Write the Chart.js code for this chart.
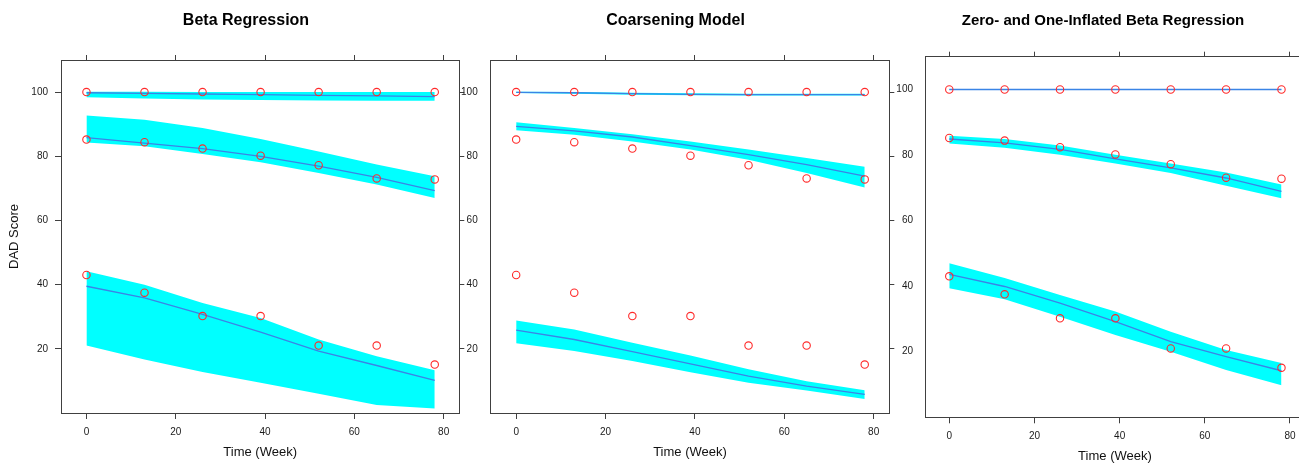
<!DOCTYPE html>
<html>
<head>
<meta charset="utf-8">
<script src="https://cdn.jsdelivr.net/npm/chart.js@4.4.1/dist/chart.umd.min.js"></script>
<style>
  html, body { margin: 0; padding: 0; background: #fff; }
  body { position: relative; width: 1299px; height: 463px; overflow: hidden; }
  canvas { position: absolute; top: 0; }
</style>
</head>
<body>
<canvas id="beta" width="492" height="463" style="left:0px"></canvas>
<canvas id="coarse" width="471" height="463" style="left:440px"></canvas>
<canvas id="zoib" width="414" height="470" style="left:896px"></canvas>
<script>
// observed time points and tick labels
const weeks = [0, 13, 26, 39, 52, 65, 78];
const xTicks = [0, 20, 40, 60, 80];
const yTicks = [20, 40, 60, 80, 100];

// observed DAD scores (three groups)
const obsHigh = [100, 100, 100, 100, 100, 100, 100];
const obsMid = [85.2, 84.4, 82.4, 80.2, 77.2, 73.1, 72.8];
const obsLow = [43.0, 37.5, 30.2, 30.2, 21.0, 21.0, 15.1];

// beta regression: fitted mean and band
const betaHighLo = [98.4, 98.0, 97.7, 97.5, 97.4, 97.3, 97.3];
const betaHighFit = [99.8, 99.6, 99.4, 99.2, 99.0, 98.8, 98.6];
const betaHighUp = [100.1, 100.1, 100.0, 100.0, 100.0, 100.0, 100.0];
const betaMidLo = [84.3, 83.1, 80.7, 78.1, 74.8, 71.2, 67.0];
const betaMidFit = [85.8, 84.1, 82.4, 80.0, 76.9, 73.4, 69.3];
const betaMidUp = [92.7, 91.4, 88.8, 85.4, 81.5, 77.4, 73.8];
const betaLowLo = [21.0, 16.7, 12.8, 9.4, 6.0, 2.5, 1.4];
const betaLowFit = [39.5, 35.9, 30.7, 25.2, 19.3, 14.8, 10.2];
const betaLowUp = [44.2, 40.0, 34.3, 29.6, 22.9, 17.7, 13.3];

// coarsening model
const coarHighLo = [99.7, 99.5, 99.2, 99.0, 98.9, 98.9, 98.9];
const coarHighFit = [99.9, 99.8, 99.5, 99.3, 99.2, 99.2, 99.2];
const coarHighUp = [100.1, 100.0, 99.8, 99.6, 99.5, 99.5, 99.5];
const coarMidLo = [88.1, 86.7, 84.6, 82.1, 78.9, 74.8, 70.3];
const coarMidFit = [89.3, 87.9, 86.0, 83.3, 80.5, 77.4, 73.8];
const coarMidUp = [90.6, 88.8, 86.9, 84.6, 82.1, 79.5, 76.7];
const coarLowLo = [21.7, 19.3, 16.2, 12.7, 9.4, 7.0, 4.4];
const coarLowFit = [25.8, 22.9, 19.1, 15.3, 11.5, 8.4, 5.8];
const coarLowUp = [28.8, 26.0, 21.9, 17.9, 13.6, 9.9, 7.1];

// zero- and one-inflated beta regression
const zoibHighLo = [99.95, 99.95, 99.95, 99.95, 99.95, 99.95, 99.95];
const zoibHighFit = [100, 100, 100, 100, 100, 100, 100];
const zoibHighUp = [100.05, 100.05, 100.05, 100.05, 100.05, 100.05, 100.05];
const zoibMidLo = [83.5, 82.2, 80.1, 77.4, 74.5, 70.6, 66.8];
const zoibMidFit = [84.9, 83.7, 81.7, 78.8, 76.1, 73.0, 68.9];
const zoibMidUp = [85.9, 84.9, 82.9, 80.1, 77.4, 74.7, 71.0];
const zoibLowLo = [39.4, 36.0, 30.7, 25.1, 20.0, 14.4, 9.8];
const zoibLowFit = [43.6, 39.9, 34.8, 29.2, 23.1, 18.5, 14.2];
const zoibLowUp = [47.0, 42.5, 37.3, 32.3, 26.1, 20.5, 16.6];

const FONT = "'Liberation Sans', Arial, Helvetica, sans-serif";
const AXIS = "#404040";
const CYAN = "#00ffff";
const BLUE = "#3a84e6";
const RED = "#ff2a2a";
const NONE = "rgba(0,0,0,0)";

function pts(ys) {
  return weeks.map((w, i) => ({ x: w, y: ys[i] }));
}

function bandSets(lo, fit, up) {
  return [
    { data: pts(lo), borderColor: NONE, borderWidth: 1, pointRadius: 0, fill: false, order: 2 },
    { data: pts(up), borderColor: NONE, borderWidth: 1, pointRadius: 0, fill: "-1", backgroundColor: CYAN, order: 2 },
    { data: pts(fit), borderColor: BLUE, borderWidth: 1.3, pointRadius: 0, fill: false, order: 1 },
  ];
}

function obsSet(ys) {
  return {
    data: pts(ys), showLine: false, order: 0,
    pointRadius: 3.7, pointBorderWidth: 1.1,
    pointBorderColor: RED, pointBackgroundColor: NONE,
  };
}

function setTicks(list) {
  return (s) => { s.ticks = list.map((v) => ({ value: v })); };
}

function makePanel(id, p) {
  const datasets = [];
  p.bands.forEach((b) => datasets.push(...bandSets(b[0], b[1], b[2])));
  datasets.push(obsSet(obsHigh), obsSet(obsMid), obsSet(obsLow));
  datasets.forEach((d) => { d.xAxisID = "x"; d.yAxisID = "y"; d.tension = 0; });

  const tickFont = { size: 10, family: FONT };

  new Chart(document.getElementById(id), {
    type: "line",
    data: { datasets },
    options: {
      responsive: false,
      animation: false,
      events: [],
      layout: { padding: 0 },
      plugins: {
        legend: { display: false },
        tooltip: { enabled: false },
        title: {
          display: true,
          text: p.title,
          color: "#000",
          font: { size: p.titleSize, weight: "bold", family: FONT },
          padding: { top: p.titleTop, bottom: 0 },
        },
      },
      scales: {
        x: {
          type: "linear", position: "bottom", min: -5.7, max: 83.5,
          afterBuildTicks: setTicks(xTicks),
          afterFit: (s) => { s.height = p.bottomH; },
          grid: { drawOnChartArea: false, tickLength: 6, color: AXIS },
          border: { display: true, color: AXIS, width: 1 },
          ticks: { font: tickFont, color: "#1a1a1a", padding: 7, maxRotation: 0 },
          title: {
            display: true, text: "Time (Week)", color: "#111",
            font: { size: 13, family: FONT },
            padding: { top: 0, bottom: p.xTitlePad },
          },
        },
        x2: {
          type: "linear", axis: "x", position: "top", min: -5.7, max: 83.5,
          afterBuildTicks: setTicks(xTicks),
          afterFit: (s) => { s.height = p.topH; },
          grid: { drawOnChartArea: false, tickLength: 5, color: AXIS },
          border: { display: true, color: AXIS, width: 1 },
          ticks: { display: false },
        },
        y: {
          type: "linear", position: "left", min: 0, max: 110,
          afterBuildTicks: setTicks(yTicks),
          afterFit: (s) => { s.width = p.leftW; },
          grid: { drawOnChartArea: false, tickLength: 6, color: p.leftTicks ? AXIS : NONE },
          border: { display: true, color: AXIS, width: 1 },
          ticks: { font: tickFont, color: "#1a1a1a", padding: p.yPad },
          title: {
            display: !!p.yTitle, text: p.yTitle || "", color: "#111",
            font: { size: 13, family: FONT },
            padding: { top: 7, bottom: 0 },
          },
        },
        y2: {
          type: "linear", axis: "y", position: "right", min: 0, max: 110,
          afterBuildTicks: setTicks(yTicks),
          afterFit: (s) => { s.width = p.rightW; },
          grid: { drawOnChartArea: false, tickLength: 5, color: p.rightTicks ? AXIS : NONE },
          border: { display: true, color: AXIS, width: 1 },
          ticks: { display: false },
        },
      },
    },
  });
}

makePanel("beta", {
  title: "Beta Regression", titleSize: 16, titleTop: 11,
  topH: 29.8, bottomH: 50, leftW: 61, rightW: 32.7,
  leftTicks: true, rightTicks: true, yPad: 7, xTitlePad: 3,
  yTitle: "DAD Score",
  bands: [
    [betaHighLo, betaHighFit, betaHighUp],
    [betaMidLo, betaMidFit, betaMidUp],
    [betaLowLo, betaLowFit, betaLowUp],
  ],
});

makePanel("coarse", {
  title: "Coarsening Model", titleSize: 16, titleTop: 11,
  topH: 29.8, bottomH: 50, leftW: 50.7, rightW: 21.7,
  leftTicks: false, rightTicks: true, yPad: 7, xTitlePad: 3,
  bands: [
    [coarHighLo, coarHighFit, coarHighUp],
    [coarMidLo, coarMidFit, coarMidUp],
    [coarLowLo, coarLowFit, coarLowUp],
  ],
});

makePanel("zoib", {
  title: "Zero- and One-Inflated Beta Regression", titleSize: 15, titleTop: 11.5,
  topH: 27.2, bottomH: 52.7, leftW: 29, rightW: 5,
  leftTicks: false, rightTicks: false, yPad: 6, xTitlePad: 5.5,
  bands: [
    [zoibHighLo, zoibHighFit, zoibHighUp],
    [zoibMidLo, zoibMidFit, zoibMidUp],
    [zoibLowLo, zoibLowFit, zoibLowUp],
  ],
});
</script>
</body>
</html>
